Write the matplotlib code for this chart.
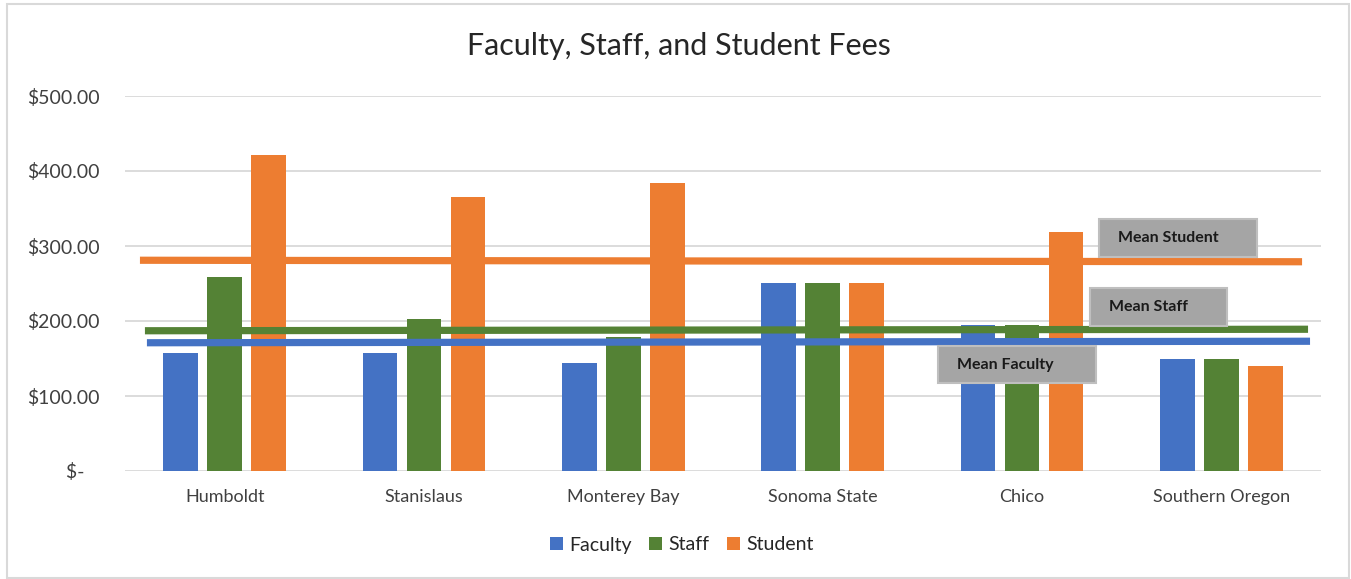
import matplotlib.pyplot as plt
import numpy as np
from matplotlib.patches import Rectangle

plt.rcParams['font.family'] = ['Lato', 'DejaVu Sans']

schools = ['Humboldt', 'Stanislaus', 'Monterey Bay', 'Sonoma State', 'Chico', 'Southern Oregon']
faculty = [158, 158, 144, 251, 195, 149]
staff = [259, 203, 179, 251, 195, 149]
student = [421, 365, 384, 251, 319, 140]

series = ['Faculty', 'Staff', 'Student']
colors = ['#4472C4', '#548235', '#ED7D31']

# hand-drawn "mean" lines in the original are slightly tilted: value at left end, right end
mean_labels = ['Mean Faculty', 'Mean Staff', 'Mean Student']
mean_left = [171, 187, 281]
mean_right = [173, 189, 279]

yticks = [0, 100, 200, 300, 400, 500]

W, H = 1351, 579
fig = plt.figure(figsize=(W / 100, H / 100), dpi=100)


def fx(px):
    return px / W


def fy(py):
    return 1 - py / H


ax = fig.add_axes([fx(125), fy(471), fx(1321) - fx(125), fy(96) - fy(471)])

x = np.arange(len(schools))
step = 0.221
width = 0.173
for i, (vals, c) in enumerate(zip([faculty, staff, student], colors)):
    ax.bar(x + (i - 1) * step, vals, width, color=c, label=series[i], zorder=2)

ax.set_xlim(-0.5, len(schools) - 0.5)
ax.set_ylim(0, 500)
ax.set_yticks(yticks)
ax.set_yticklabels(['$-   ' if v == 0 else f'${v:.2f}' for v in yticks])
ax.set_xticks(x)
ax.set_xticklabels(schools)
ax.tick_params(axis='y', length=0, pad=18, labelsize=14, labelcolor='#404040')
ax.tick_params(axis='x', length=0, pad=13, labelsize=13, labelcolor='#404040')
ax.grid(axis='y', color='#d9d9d9', lw=1.3, zorder=0)
for s in ax.spines.values():
    s.set_visible(False)

# mean lines (drawn over the bars)
line_x0 = [-0.39, -0.40, -0.425]
line_x1 = [5.445, 5.435, 5.405]
for i in range(3):
    ax.plot([line_x0[i], line_x1[i]], [mean_left[i], mean_right[i]],
            color=colors[i], lw=5.2, solid_capstyle='butt', zorder=4)

# label boxes (pixel layout of the original shapes)
boxes = [(938, 346, 1096, 383), (1090, 288, 1227, 326), (1099, 219, 1257, 257)]
for lab, (x0, y0, x1, y1) in zip(mean_labels, boxes):
    fig.patches.append(Rectangle((fx(x0), fy(y1)), fx(x1) - fx(x0), fy(y0) - fy(y1),
                                 transform=fig.transFigure, facecolor='#a5a5a5',
                                 edgecolor='#bfbfbf', lw=1.5, zorder=5))
    fig.text(fx(x0 + 19), fy((y0 + y1) / 2), lab, ha='left', va='center',
             fontsize=11.5, fontweight='bold', color='#1a1a1a', zorder=6)

fig.text(fx(679), fy(46), 'Faculty, Staff, and Student Fees', ha='center', va='center',
         fontsize=22, color='#262626')

fig.legend(loc='center', bbox_to_anchor=(fx(682), fy(545)), ncol=3, frameon=False,
           handlelength=0.65, handleheight=0.65, handletextpad=0.35, columnspacing=0.9,
           fontsize=14, labelcolor='#262626')

# chart border
fig.patches.append(Rectangle((fx(7), fy(578)), fx(1349) - fx(7), fy(4) - fy(578),
                             transform=fig.transFigure, fill=False, edgecolor='#d9d9d9', lw=1.5))

fig.savefig('out.png', dpi=100)
